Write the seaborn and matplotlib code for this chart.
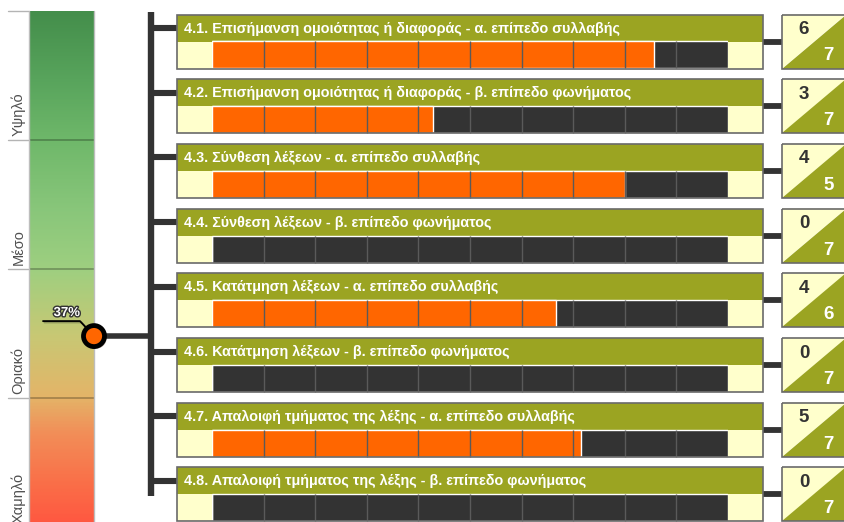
import numpy as np
import pandas as pd
import matplotlib
matplotlib.use("Agg")
import matplotlib.pyplot as plt
import seaborn as sns
from matplotlib.colors import LinearSegmentedColormap
from matplotlib.patches import Rectangle, Polygon
import matplotlib.patheffects as pe

# ---------------- data ----------------
labels = [
    "4.1. Επισήμανση ομοιότητας ή διαφοράς - α. επίπεδο συλλαβής",
    "4.2. Επισήμανση ομοιότητας ή διαφοράς - β. επίπεδο φωνήματος",
    "4.3. Σύνθεση λέξεων - α. επίπεδο συλλαβής",
    "4.4. Σύνθεση λέξεων - β. επίπεδο φωνήματος",
    "4.5. Κατάτμηση λέξεων - α. επίπεδο συλλαβής",
    "4.6. Κατάτμηση λέξεων - β. επίπεδο φωνήματος",
    "4.7. Απαλοιφή τμήματος της λέξης - α. επίπεδο συλλαβής",
    "4.8. Απαλοιφή τμήματος της λέξης - β. επίπεδο φωνήματος",
]
scores = [6, 3, 4, 0, 4, 0, 5, 0]
totals = [7, 7, 5, 7, 6, 7, 7, 7]
gauge_value = 37
band_names = ["Χαμηλό", "Οριακό", "Μέσο", "Υψηλό"]
band_edges = [0, 25, 50, 75, 100]

# ---------------- style ----------------
OLIVE = "#9ba422"
CREAM = "#ffffcc"
DARK = "#333333"
ORANGE = "#ff6600"
BORDER = "#6a6a6a"

sns.set_theme(style="white")
plt.rcParams["font.family"] = ["Liberation Sans", "DejaVu Sans"]

W, H = 844, 522
fig = plt.figure(figsize=(W / 100, H / 100), dpi=100)
fig.patch.set_facecolor("white")

# layout (pixels)
ROW0 = 14.5
PITCH = 64.7
TH = 27.0  # title strip height
BH = 27.0  # bar strip height
PX0, PX1 = 177, 763
BX0, BX1 = 212, 728
SPX = 150.5
BOX0, BOX1 = 782, 846

# background overlay
ov = fig.add_axes([0, 0, 1, 1], zorder=0)
ov.set_xlim(0, W)
ov.set_ylim(H, 0)
ov.axis("off")

# top overlay for borders and text
ot = fig.add_axes([0, 0, 1, 1], zorder=3)
ot.set_xlim(0, W)
ot.set_ylim(H, 0)
ot.axis("off")
ot.patch.set_alpha(0)

n = len(labels)
last_top = ROW0 + (n - 1) * PITCH
# spine
ov.plot([SPX, SPX], [12, last_top + TH + 1.5], color=DARK, lw=4.6,
        solid_capstyle="butt")

for i, (lab, s, t) in enumerate(zip(labels, scores, totals)):
    top = ROW0 + i * PITCH
    ov.add_patch(Rectangle((PX0, top), PX1 - PX0, TH, fc=OLIVE, ec="none"))
    ov.add_patch(Rectangle((PX0, top + TH), BX0 - PX0, BH, fc=CREAM, ec="none"))
    ov.add_patch(Rectangle((BX1, top + TH), PX1 - BX1, BH, fc=CREAM, ec="none"))
    ot.add_patch(Rectangle((PX0, top), PX1 - PX0, TH + BH, fill=False,
                           ec=BORDER, lw=1.2))
    ot.text(PX0 + 7, top + TH / 2 + 0.5, lab, color="white", fontsize=10.4,
            fontweight="bold", ha="left", va="center")
    # branch from spine
    ov.plot([SPX, PX0], [top + TH / 2, top + TH / 2], color=DARK, lw=4.4,
            solid_capstyle="butt")
    # connector to score box
    ov.plot([PX1, BOX0], [top + TH, top + TH], color=DARK, lw=4.2,
            solid_capstyle="butt")
    # score box
    ov.add_patch(Polygon([(BOX0, top), (BOX1, top), (BOX0, top + TH + BH)],
                         closed=True, fc=CREAM, ec="none"))
    ov.add_patch(Polygon([(BOX1, top), (BOX1, top + TH + BH), (BOX0, top + TH + BH)],
                         closed=True, fc=OLIVE, ec="none"))
    ot.add_patch(Rectangle((BOX0, top), BOX1 - BOX0, TH + BH, fill=False,
                           ec=BORDER, lw=1.2))
    ot.text(BOX0 + 22, top + 15, str(s), color=DARK, fontsize=13.5,
            fontweight="bold", ha="center", va="center")
    ot.text(BOX0 + 46.5, top + 41.5, str(t), color="white", fontsize=13.5,
            fontweight="bold", ha="center", va="center")

# ---------------- bars (seaborn) ----------------
yc0 = ROW0 + TH + BH / 2
ytop = yc0 - 0.5 * PITCH
ybot = yc0 + (n - 0.5) * PITCH
bax = fig.add_axes([BX0 / W, 1 - ybot / H, (BX1 - BX0) / W, (ybot - ytop) / H],
                   zorder=1)
bax.patch.set_alpha(0)
df = pd.DataFrame({
    "label": labels,
    "frac": np.array(scores) / np.array(totals),
    "full": np.ones(n),
})
bw = BH / PITCH
sns.barplot(data=df, x="full", y="label", orient="h", color=DARK, width=bw,
            saturation=1, errorbar=None, ax=bax)
sns.barplot(data=df, x="frac", y="label", orient="h", color=ORANGE, width=bw,
            saturation=1, errorbar=None, ax=bax)
for i in range(n):
    bax.vlines(np.arange(1, 10) / 10, i - bw / 2, i + bw / 2, color="#5a5a5a",
               lw=1.0)
bax.set_xlim(0, 1)
bax.set_ylim(n - 0.5, -0.5)
bax.axis("off")

# ---------------- gauge ----------------
G0, G1 = 29, 94
GTOP, GBOT = 11, 527
gax = fig.add_axes([G0 / W, 1 - GBOT / H, (G1 - G0) / W, (GBOT - GTOP) / H],
                   zorder=2)
gcols = [
    (0.00, "#ff5640"),
    (0.08, "#fa6e48"),
    (0.18, "#f28e58"),
    (0.25, "#e4b468"),
    (0.37, "#c8c874"),
    (0.50, "#9ecf80"),
    (0.62, "#88c67a"),
    (0.75, "#6fb86a"),
    (0.87, "#58a45c"),
    (1.00, "#448e4b"),
]
cmap = LinearSegmentedColormap.from_list("gauge", gcols)
grad = np.linspace(0, 100, 400).reshape(-1, 1)
gax.imshow(grad, origin="lower", extent=[0, 1, 0, 100], aspect="auto",
           cmap=cmap, vmin=0, vmax=100)
gax.set_xlim(0, 1)
gax.set_ylim(0, 100)
gax.axis("off")
px_per_x = G1 - G0
px_per_y = (GBOT - GTOP) / 100.0
for e in band_edges[1:-1]:
    gax.axhline(e, color="black", alpha=0.25, lw=1.4)
for e in band_edges[1:]:
    gax.plot([-21 / px_per_x, 0], [e, e], color="#b4b4b4", lw=1.0, clip_on=False)
gax.plot([0, 0], [0, 100], color="#bdbdbd", lw=1.0, clip_on=False)
gax.plot([1, 1], [0, 100], color="#bdbdbd", lw=1.0, clip_on=False)
for lo, name in zip(band_edges[:-1], band_names):
    gax.text(-10.5 / px_per_x, lo + 0.7, name, rotation=90, ha="center",
             va="bottom", fontsize=10.5, color="#505050")

v = gauge_value
# line to spine
gax.plot([1, (SPX - G0) / px_per_x], [v, v], color=DARK, lw=4.0,
         solid_capstyle="butt", clip_on=False, zorder=3)
# leader line
yl = v + 15 / px_per_y
gax.plot([(43 - G0) / px_per_x, (80 - G0) / px_per_x, 1], [yl, yl, v],
         color="black", lw=1.3, clip_on=False, zorder=3,
         path_effects=[pe.SimpleLineShadow(offset=(1, -1), alpha=0.3), pe.Normal()])
gax.text((67 - G0) / px_per_x, v + 23 / px_per_y, f"{v}%", color="white",
         fontsize=9.5, fontweight="bold", ha="center", va="center", zorder=4,
         path_effects=[pe.withStroke(linewidth=2, foreground="#333333")])
gax.scatter([1], [v], s=(21 * 0.72) ** 2, c=ORANGE, edgecolors="black",
            linewidths=4.8 * 0.72, zorder=5, clip_on=False,
            path_effects=[pe.SimplePatchShadow(offset=(1.5, -1.5), alpha=0.35),
                          pe.Normal()])

fig.savefig("out.png", dpi=100, facecolor="white")
